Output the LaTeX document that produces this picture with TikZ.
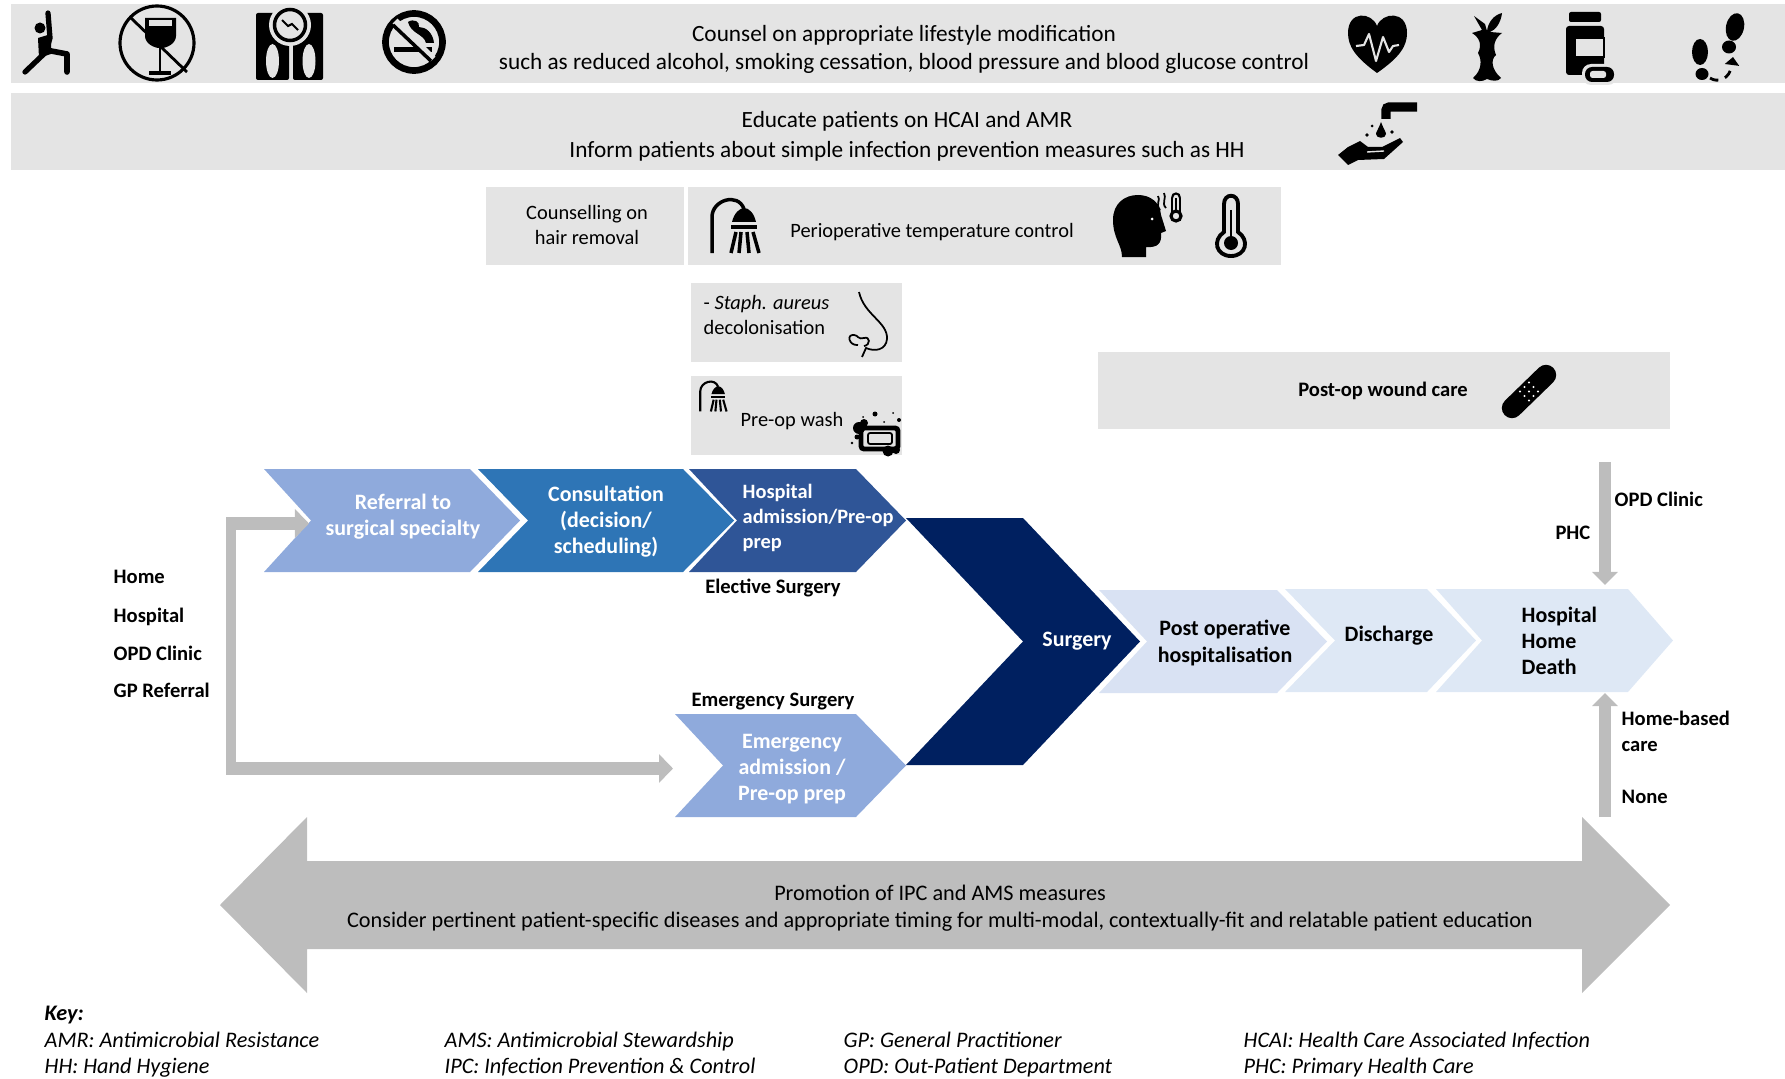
\documentclass[tikz,border=0pt]{standalone}
\usepackage{fontspec}
\setmainfont{Carlito}
\usetikzlibrary{arrows.meta}

\definecolor{bandgrey}{HTML}{E4E4E4}
\definecolor{flowgrey}{HTML}{BDBDBD}
\definecolor{referralblue}{HTML}{8FAADC}
\definecolor{consultblue}{HTML}{2E75B6}
\definecolor{admitblue}{HTML}{2F5597}
\definecolor{surgeryblue}{HTML}{002060}
\definecolor{postblue}{HTML}{D9E2F3}
\definecolor{dischargeblue}{HTML}{DEE8F5}

\tikzset{
  band/.style={fill=bandgrey},
  plain/.style={font=\fontsize{6.62}{8}\selectfont,align=center,inner sep=0pt},
  small/.style={font=\fontsize{5.8}{6.9}\selectfont,align=center,inner sep=0pt},
  strong/.style={font=\fontsize{5.85}{7.4}\selectfont\bfseries,align=center,inner sep=0pt},
  stagedark/.style={font=\fontsize{6.25}{7.4}\selectfont\bfseries,align=center,inner sep=0pt},
  stage/.style={stagedark,text=white},
  keyitem/.style={font=\fontsize{6.32}{7}\selectfont\itshape,anchor=base west,inner sep=0pt},
  flowarrow/.style={draw=flowgrey,line width=#1,-{Triangle[length=0.14cm,width=0.28cm]}},
}

% name, left, notch, shoulder, tip, top, bottom, colour
\newcommand{\chevron}[8]{
  \fill[#8] (#2,#6) -- (#4,#6) -- (#5,{(#6+#7)/2}) -- (#4,#7) -- (#2,#7) -- (#3,{(#6+#7)/2}) -- cycle;
  \coordinate (#1-notch) at (#3,{(#6+#7)/2});
}

% x, y, scale, line width
\newcommand{\showericon}[4]{
  \begin{scope}[shift={(#1,#2)},scale=#3,line width=#4]
    \draw (4,58) -- (4,22) .. controls (4,5) and (30,-3) .. (36,14);
    \fill (24,27) .. controls (26,18) and (32,13) .. (36,13) .. controls (41,13) and (46,18) .. (48,27) -- cycle;
    \fill (23,30) rectangle (49,34);
    \draw (28,37) -- (23,58);
    \draw (33,37) -- (31,58);
    \draw (39,37) -- (41,58);
    \draw (45,37) -- (51,58);
  \end{scope}
}

\begin{document}
\begin{tikzpicture}[x=0.01cm,y=-0.01cm]

  \useasboundingbox (0,0) rectangle (1785,1079);

  % Grey bands
  \fill[band] (11,4) rectangle (1785,83);
  \fill[band] (11,93) rectangle (1785,170);
  \fill[band] (486,187) rectangle (684,265);
  \fill[band] (688,187) rectangle (1281,265);
  \fill[band] (691,283) rectangle (902,362);
  \fill[band] (691,376) rectangle (902,455);
  \fill[band] (1098,352) rectangle (1670,429);

  % Band texts
  \node[plain] (counsel) at (904,49) {Counsel on appropriate lifestyle modification\\such as reduced alcohol, smoking cessation, blood pressure and blood glucose control};
  \node[plain] (educate) at (907,136) {Educate patients on HCAI and AMR\\[0.6pt]Inform patients about simple infection prevention measures such as HH};
  \node[small] (hair) at (587,225) {Counselling on\\hair removal};
  \node[small] (temperature) at (932,232) {Perioperative temperature control};
  \node[small,align=left,anchor=west] (staph) at (703,315) {- \textit{Staph. aureus}\\decolonisation};
  \node[small] (wash) at (792,421) {Pre-op wash};
  \node[strong] (woundcare) at (1383,391) {Post-op wound care};

  % Stages, elective route
  \chevron{referral}{264}{311}{470}{520}{469}{572}{referralblue}
  \chevron{consultation}{478}{528}{683}{734}{469}{572}{consultblue}
  \chevron{admission}{689}{737}{856}{906}{469}{572}{admitblue}
  \node[stage] (referraltext) at (403,517) {Referral to\\surgical specialty};
  \node[stage] (consulttext) at (606,522) {Consultation\\(decision/\\scheduling)};
  \node[stage,font=\fontsize{5.8}{7.1}\selectfont\bfseries,align=left,anchor=west] (admissiontext) at (742,518) {Hospital\\admission/Pre-op\\prep};
  \node[strong] (elective) at (773,588) {Elective Surgery};

  % Stage, emergency route
  \chevron{emergency}{675}{723}{856}{906}{714}{817}{referralblue}
  \node[stage] (emergencytext) at (792,769) {Emergency\\admission /\\Pre-op prep};
  \node[strong] (emergencylabel) at (773,701) {Emergency Surgery};

  % Stages after surgery
  \chevron{postop}{1099}{1147}{1277}{1327}{590}{693}{postblue}
  \chevron{discharge}{1285}{1335}{1427}{1476}{589}{692}{dischargeblue}
  \chevron{outcome}{1436}{1482}{1628}{1673}{589}{692}{dischargeblue}
  \chevron{surgery}{906}{1023}{1023}{1140}{518}{765}{surgeryblue}
  \node[stage] (surgerytext) at (1077,641) {Surgery};
  \node[stagedark] (postoptext) at (1225,643) {Post operative\\hospitalisation};
  \node[stagedark] (dischargetext) at (1389,636) {Discharge};
  \node[stagedark,align=left,anchor=west] (outcometext) at (1521,641) {Hospital\\Home\\Death};

  % Entry points
  \node[strong,anchor=west] (home) at (113,577) {Home};
  \node[strong,anchor=west] (hospital) at (113,617) {Hospital};
  \node[strong,anchor=west] (opdleft) at (113,653) {OPD Clinic};
  \node[strong,anchor=west] (gp) at (113,690) {GP Referral};

  % Entry arrows
  \coordinate (entrytop) at (231,517);
  \coordinate (entrybottom) at (231,775);
  \coordinate (entryup) at (226,523.5);
  \coordinate (entrylow) at (226,768.5);
  \coordinate (emergencyin) at (673,768.5);
  \coordinate (referralin) at (309,523.5);
  \draw[flowgrey,line width=0.1cm] (entrytop) -- (entrybottom);
  \draw[flowarrow=0.13cm] (entryup) -- (referralin);
  \draw[flowarrow=0.13cm] (entrylow) -- (emergencyin);

  % Follow-up arrows
  \coordinate (followtop) at (1605,462);
  \coordinate (outcomeabove) at (1605,585);
  \coordinate (followbottom) at (1605,817);
  \coordinate (outcomebelow) at (1605,693);
  \draw[flowgrey,-{Triangle[length=0.13cm,width=0.25cm]},line width=0.12cm] (followtop) -- (outcomeabove);
  \draw[flowgrey,-{Triangle[length=0.13cm,width=0.25cm]},line width=0.12cm] (followbottom) -- (outcomebelow);
  \node[strong,anchor=west] (opdright) at (1614,499) {OPD Clinic};
  \node[strong,anchor=east] (phc) at (1591,533) {PHC};
  \node[strong,align=left,anchor=west] (homebased) at (1621,731) {Home-based\\care};
  \node[strong,anchor=west] (none) at (1621,797) {None};

  % Big double arrow
  \fill[flowgrey] (220,905) -- (307,817) -- (307,861) -- (1582,861) -- (1582,817) -- (1670,905) -- (1582,993) -- (1582,949) -- (307,949) -- (307,993) -- cycle;
  \node[plain,font=\fontsize{6.32}{7.6}\selectfont] (promotion) at (940,908) {Promotion of IPC and AMS measures\\Consider pertinent patient-specific diseases and appropriate timing for multi-modal, contextually-fit and relatable patient education};

  % Key
  \node[keyitem,font=\fontsize{6.32}{7}\selectfont\itshape\bfseries] (keytitle) at (44,1020) {Key:};
  \node[keyitem] (amr) at (44,1047) {AMR: Antimicrobial Resistance};
  \node[keyitem] (hh) at (44,1073) {HH: Hand Hygiene};
  \node[keyitem] (ams) at (444,1047) {AMS: Antimicrobial Stewardship};
  \node[keyitem] (ipc) at (444,1073) {IPC: Infection Prevention \& Control};
  \node[keyitem] (gpkey) at (843,1047) {GP: General Practitioner};
  \node[keyitem] (opdkey) at (843,1073) {OPD: Out-Patient Department};
  \node[keyitem] (hcai) at (1243,1047) {HCAI: Health Care Associated Infection};
  \node[keyitem] (phckey) at (1243,1073) {PHC: Primary Health Care};

  % Stretching figure
  \fill (40,28) circle (5.5);
  \draw[line width=1.5pt,line cap=round,line join=round] (48,13) -- (50,38) -- (46,52) -- (25,72);
  \draw[line width=1.6pt,line cap=round,line join=round] (46,50) -- (67,54) -- (67,72);
  \fill (38,38) -- (51,34) -- (51,54) -- (39,58) -- cycle;

  % No wine
  \draw[line width=0.9pt] (157,43) circle (37);
  \fill (145,18) -- (176,18) -- (176,36) .. controls (176,44) and (166,48) .. (162,48) -- (159,48) .. controls (155,48) and (145,44) .. (145,36) -- cycle;
  \fill[bandgrey] (149,20.5) rectangle (172,26);
  \draw[line width=0.7pt] (160,48) -- (160,72);
  \draw[line width=0.9pt] (149,73) -- (171,73);
  \draw[line width=0.8pt] (131,18) -- (187,72);

  % Scale
  \fill[rounded corners=0.2mm] (256,13) rectangle (289,80);
  \fill[rounded corners=0.2mm] (293,13) rectangle (323,80);
  \fill[bandgrey] (290,25) circle (21);
  \draw[line width=1pt] (290,25) circle (15.5);
  \draw[line width=0.6pt] (282,20) -- (288,26) -- (292,24) -- (298,30);
  \fill[bandgrey] (272.5,61) ellipse (6.5 and 17);
  \fill[bandgrey] (309,61) ellipse (6.5 and 17);

  % No smoking
  \draw[line width=1.9pt] (414,42) circle (28.5);
  \fill (394,47) rectangle (432,52);
  \fill (408,22) .. controls (414,18) and (420,22) .. (419,27) .. controls (426,27) and (433,33) .. (434,43) -- (426,43) .. controls (424,34) and (411,34) .. (408,22) -- cycle;
  \draw[bandgrey,line width=2pt] (395,21) -- (433,59);
  \draw[line width=1pt] (393,25) -- (431,61);

  % Heart rate
  \fill (1377,73) .. controls (1355,57) and (1348,46) .. (1348,33) .. controls (1348,10) and (1372,12) .. (1377,26) .. controls (1382,12) and (1407,10) .. (1407,33) .. controls (1407,46) and (1400,57) .. (1377,73) -- cycle;
  \draw[bandgrey,line width=0.6pt,line join=round] (1356,46) -- (1364,45) -- (1369,34) -- (1376,61) -- (1383,37) -- (1389,52) -- (1393,46) -- (1399,45);

  % Apple core
  \fill (1472,33) -- (1482,30) -- (1474,16) -- (1485,24) -- (1487,31) .. controls (1488,22) and (1494,15) .. (1502,13) .. controls (1501,22) and (1496,30) .. (1490,32) -- (1502,33) .. controls (1495,38) and (1492,46) .. (1496,55) .. controls (1490,60) and (1492,70) .. (1501,78) .. controls (1498,82) and (1492,81) .. (1487,79) .. controls (1482,82) and (1476,82) .. (1473,78) .. controls (1482,70) and (1482,60) .. (1478,53) .. controls (1482,45) and (1480,38) .. (1472,33) -- cycle;

  % Pill bottle
  \fill[rounded corners=0.2mm] (1569,12) rectangle (1601,22);
  \fill[rounded corners=0.3mm] (1566,26) rectangle (1604,75);
  \fill[bandgrey] (1575,38) rectangle (1604,57);
  \draw[line width=0.6pt] (1575,38) rectangle (1604,57);
  \fill[bandgrey,rounded corners=0.9mm] (1582,64) rectangle (1617,85);
  \fill[rounded corners=0.7mm] (1585,67) rectangle (1614,82);
  \fill[bandgrey,rounded corners=0.25mm] (1590,71) rectangle (1606,78);

  % Footprints
  \fill (1700,52) ellipse (8 and 13);
  \fill (1702,74) ellipse (6.5 and 6);
  \fill[rotate around={-12:(1735,27)}] (1735,27) ellipse (9 and 14);
  \fill (1729,47) ellipse (7 and 6.5);
  \draw[line width=0.8pt,dash pattern=on 2.5pt off 2pt,-{Triangle[length=0.08cm,width=0.14cm]}] (1710,78) .. controls (1717,83) and (1730,80) .. (1733,57);

  % Washing hands
  \draw[line width=2.6pt,rounded corners=0.3mm] (1386,119) -- (1386,107) -- (1417,107);
  \fill (1381,122) .. controls (1378,130) and (1376,132) .. (1376,134) .. controls (1376,139) and (1386,139) .. (1386,134) .. controls (1386,132) and (1384,130) .. (1381,122) -- cycle;
  \fill (1372,126) circle (1.5);
  \fill (1367,135) circle (1.8);
  \fill (1392,132) circle (1.8);
  \fill (1338,155) -- (1348,165) -- (1358,160) -- (1384,159) -- (1403,142) -- (1400,138) -- (1382,147) -- (1368,147) -- (1360,141) -- (1348,147) -- cycle;
  \draw[bandgrey,line width=0.4pt] (1367,152) -- (1384,151);

  % Showers
  \showericon{708}{195}{1}{1pt}
  \showericon{698}{379}{0.56}{0.6pt}

  % Head with thermometer
  \fill (1122,257) .. controls (1122,245) and (1113,238) .. (1113,220) .. controls (1113,203) and (1125,195) .. (1138,195) .. controls (1150,195) and (1160,202) .. (1161,215) -- (1166,231) -- (1161,233) .. controls (1162,243) and (1158,248) .. (1146,247) -- (1146,257) -- cycle;
  \fill[white] (1152,219) circle (1.5);
  \draw[line width=0.5pt] (1176,198) -- (1176,213);
  \draw[line width=0.6pt] (1172,198) -- (1172,212) (1180,198) -- (1180,212);
  \draw[line width=0.9pt] (1176,216) circle (5);
  \draw[line width=0.6pt] (1172,198) .. controls (1172,192) and (1180,192) .. (1180,198);
  \draw[line width=0.5pt] (1158,196) .. controls (1161,200) and (1155,204) .. (1160,210);
  \draw[line width=0.5pt] (1164,193) .. controls (1167,198) and (1161,203) .. (1166,208);

  % Thermometer
  \draw[line width=1.1pt] (1224,232) -- (1224,204) .. controls (1224,193) and (1238,193) .. (1238,204) -- (1238,232) .. controls (1250,240) and (1246,256) .. (1231,256) .. controls (1216,256) and (1212,240) .. (1224,232) -- cycle;
  \fill (1231,243) circle (7);
  \draw[line width=0.7pt] (1231,210) -- (1231,240);

  % Nose
  \draw[line width=0.5pt] (859,292) .. controls (864,315) and (888,322) .. (887,339) .. controls (886,350) and (875,352) .. (866,348) -- (862,357);
  \draw[line width=0.5pt] (858,345) .. controls (849,346) and (846,334) .. (854,335) .. controls (858,335) and (858,340) .. (864,338) .. controls (870,336) and (871,345) .. (864,346);

  % Soap
  \draw[line width=1.4pt,fill=bandgrey,rounded corners=0.3mm] (861,428) rectangle (898,449);
  \draw[line width=0.5pt,rounded corners=0.2mm] (868,433) rectangle (892,444);
  \fill (859,428) circle (6);
  \fill (864,423) circle (4);
  \fill (857,437) circle (2.5);
  \fill (888,451) circle (5.5);
  \fill (896,450) circle (4);
  \fill (875,414) circle (2.5);
  \fill (899,420) circle (2);
  \fill (863,417) circle (1);
  \fill (893,413) circle (1);
  \fill (884,422) circle (1);
  \fill (852,443) circle (1.3);

  % Bandage
  \draw[line width=5.8pt,line cap=round] (1512,408) -- (1546,375);
  \foreach \i in {-1,0,1}
    \foreach \j in {-1,0,1}
      \fill[white] ({1529+4.5*(\i+\j)},{391.5+4.5*(\i-\j)}) circle (1.1);

\end{tikzpicture}
\end{document}
